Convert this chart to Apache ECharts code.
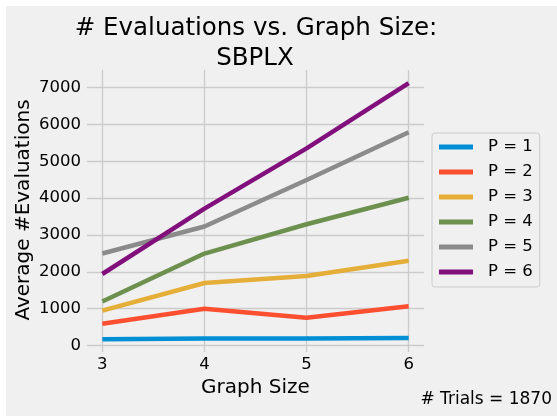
<!DOCTYPE html>
<html>
<head>
<meta charset="utf-8">
<script src="https://cdn.jsdelivr.net/npm/echarts@6/dist/echarts.min.js"></script>
<style>
html,body{margin:0;padding:0;background:#ffffff;}
#chart{width:557px;height:416px;}
</style>
</head>
<body>
<div id="chart"></div>
<script>
const graphSizes = [3, 4, 5, 6];
const xTicks = [3, 4, 5, 6];
const yTicks = [0, 1000, 2000, 3000, 4000, 5000, 6000, 7000];
const seriesNames = ['P = 1', 'P = 2', 'P = 3', 'P = 4', 'P = 5', 'P = 6'];
const p1 = [170, 190, 190, 205];
const p2 = [590, 995, 750, 1065];
const p3 = [945, 1695, 1885, 2300];
const p4 = [1195, 2495, 3290, 4010];
const p5 = [2495, 3230, 4490, 5790];
const p6 = [1940, 3715, 5350, 7120];
const allValues = [p1, p2, p3, p4, p5, p6];
const colors = ['#008fd5', '#fc4f30', '#e5ae38', '#6d904f', '#8b8b8b', '#810f7c'];
const titleLine1 = '# Evaluations vs. Graph Size:';
const titleLine2 = 'SBPLX';
const yName = 'Average #Evaluations';
const noteText = '# Trials = 1870';

const font = 'DejaVu Sans';
const chart = echarts.init(document.getElementById('chart'), null, {renderer: 'canvas'});
const series = allValues.map((vals, i) => ({
  name: seriesNames[i],
  type: 'line',
  data: vals.map((v, j) => [graphSizes[j], v]),
  showSymbol: false,
  symbol: 'none',
  lineStyle: {width: 4.5, color: colors[i], cap: 'butt'},
  itemStyle: {color: colors[i]},
  emphasis: {disabled: true},
  animation: false
}));

chart.setOption({
  animation: false,
  backgroundColor: 'transparent',
  graphic: [
    {type: 'rect', x: 6, y: 6, z: -10, shape: {width: 551, height: 410}, style: {fill: '#f0f0f0'}},
    {type: 'text', x: 552, y: 400, style: {text: noteText, fontFamily: font, fontSize: 17, fill: '#000', textAlign: 'right', textVerticalAlign: 'middle'}},
    {type: 'text', x: 256, y: 28.5, style: {text: titleLine1, fontFamily: font, fontSize: 24.5, fill: '#000', textAlign: 'center', textVerticalAlign: 'middle'}},
    {type: 'text', x: 255, y: 59, style: {text: titleLine2, fontFamily: font, fontSize: 24.5, fill: '#000', textAlign: 'center', textVerticalAlign: 'middle'}},
    {type: 'text', x: 24, y: 210, rotation: Math.PI / 2, style: {text: yName, fontFamily: font, fontSize: 20, fill: '#000', textAlign: 'center', textVerticalAlign: 'middle'}}
  ],
  grid: {left: 87, right: 133, top: 70, bottom: 64, containLabel: false, outerBoundsMode: 'none'},
  legend: {
    orient: 'vertical',
    left: 432,
    top: 133,
    data: seriesNames,
    icon: 'rect',
    itemWidth: 34,
    itemHeight: 5,
    itemGap: 5,
    padding: [4, 7, 5, 7],
    backgroundColor: '#f0f0f0',
    borderColor: '#cccccc',
    borderWidth: 1,
    borderRadius: 3,
    textStyle: {fontFamily: font, fontSize: 16.5, color: '#000', lineHeight: 20, padding: [0, 0, 0, 10]}
  },
  xAxis: {
    type: 'value',
    min: 2.85,
    max: 6.15,
    name: 'Graph Size',
    nameLocation: 'middle',
    nameGap: 26,
    nameTextStyle: {fontFamily: font, fontSize: 20, color: '#000'},
    axisLine: {show: false},
    axisTick: {show: false, customValues: xTicks},
    axisLabel: {customValues: xTicks, fontFamily: font, fontSize: 16.5, color: '#000', margin: 4, formatter: v => String(v)},
    splitLine: {show: true, lineStyle: {color: '#cbcbcb', width: 1.3}}
  },
  yAxis: {
    type: 'value',
    min: -178,
    max: 7478,
    axisLine: {show: false},
    axisTick: {show: false, customValues: yTicks},
    axisLabel: {customValues: yTicks, fontFamily: font, fontSize: 16.5, color: '#000', margin: 6, formatter: v => String(v)},
    splitLine: {show: true, lineStyle: {color: '#cbcbcb', width: 1.3}}
  },
  series: series
});
</script>
</body>
</html>
